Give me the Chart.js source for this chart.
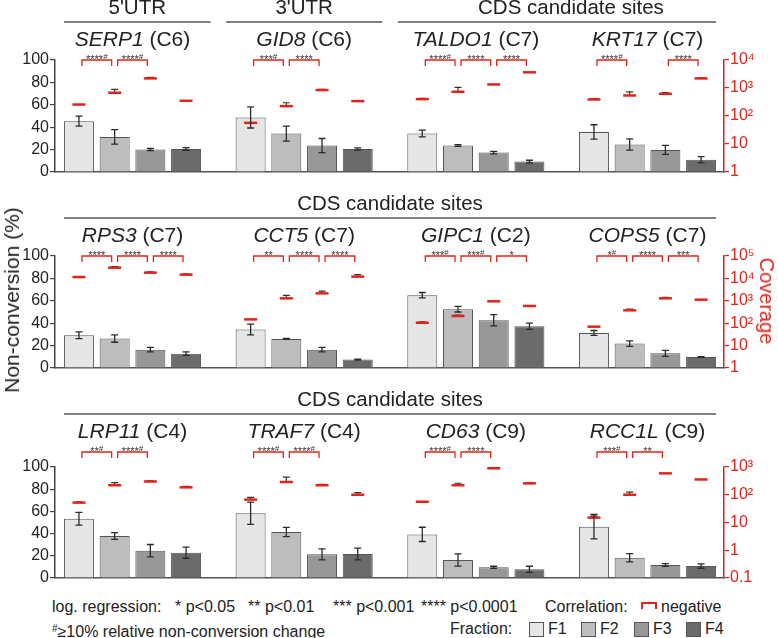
<!DOCTYPE html>
<html lang="en">
<head>
<meta charset="UTF-8" />
<title>Non-conversion by fraction</title>
<script src="https://cdn.jsdelivr.net/npm/chart.js"></script>
<style>
  body { margin: 0; background: #fff; font-family: "Liberation Sans", Arial, sans-serif; }
  #wrap { position: relative; width: 778px; height: 638px; overflow: hidden; }
  #wrap canvas { position: absolute; left: 0; }
  .t { position: absolute; white-space: nowrap; font-size: 16px; line-height: 18px; color: #222; }
  .box { position: absolute; width: 13px; height: 13px; border: 1px solid #555; }
</style>
</head>
<body>
<div id="wrap">
  <canvas id="row1" width="778" height="184" style="top:0px"></canvas>
  <canvas id="row2" width="778" height="196" style="top:184px"></canvas>
  <canvas id="row3" width="778" height="210" style="top:380px"></canvas>

  <!-- axis titles -->
  <div class="t" style="left:12px;top:300px;font-size:21px;line-height:22px;transform:translate(-50%,-50%) rotate(-90deg)">Non-conversion (%)</div>
  <div class="t" style="left:767px;top:301px;font-size:20px;line-height:22px;color:#e2231a;transform:translate(-50%,-50%) rotate(90deg)">Coverage</div>

  <!-- legend -->
  <div class="t" style="left:52px;top:598px">log. regression:</div>
  <div class="t" style="left:175px;top:598px">* p&lt;0.05</div>
  <div class="t" style="left:248px;top:598px">** p&lt;0.01</div>
  <div class="t" style="left:333px;top:598px">*** p&lt;0.001</div>
  <div class="t" style="left:421px;top:598px">**** p&lt;0.0001</div>
  <div class="t" style="left:545px;top:598px">Correlation:</div>
  <div style="position:absolute;left:641px;top:602px;width:12px;height:5px;border:2px solid #e2231a;border-bottom:none"></div>
  <div class="t" style="left:661px;top:598px">negative</div>

  <div class="t" style="left:52px;top:620px"><span style="font-size:10px;vertical-align:5px">#</span>≥10% relative non-conversion change</div>
  <div class="t" style="left:450px;top:620px">Fraction:</div>
  <div class="box" style="left:529px;top:622px;background:#e6e6e6"></div>
  <div class="t" style="left:548px;top:620px">F1</div>
  <div class="box" style="left:581px;top:622px;background:#bdbdbd"></div>
  <div class="t" style="left:600px;top:620px">F2</div>
  <div class="box" style="left:634px;top:622px;background:#989898"></div>
  <div class="t" style="left:653px;top:620px">F3</div>
  <div class="box" style="left:686px;top:622px;background:#6b6b6b"></div>
  <div class="t" style="left:705px;top:620px">F4</div>
</div>

<script>
  // ---- data ----
  const fractions = ["F1", "F2", "F3", "F4"];
  const pctTicks = [0, 20, 40, 60, 80, 100];

  // row 1
  const genes1 = ["SERP1", "GID8", "TALDO1", "KRT17"];
  const clusters1 = ["C6", "C6", "C7", "C7"];
  const nonconv1 = [[45.4, 31.3, 20.0, 20.6], [48.7, 34.3, 23.6, 20.6], [34.3, 23.6, 17.3, 9.3], [35.8, 24.5, 19.7, 11.0]];
  const err1 = [[4.5, 6.5, 1.0, 1.2], [9.4, 6.7, 6.3, 1.0], [3.0, 0.8, 1.2, 1.2], [6.4, 5.0, 4.0, 2.8]];
  const cov1 = [[257, 676, 2200, 350], [57, 225, 845, 340], [400, 735, 1340, 3630], [390, 540, 620, 2200]];
  const covHi1 = [[null, 890, 2380, null], [null, 297, 900, null], [430, 1050, null, null], [420, 730, 680, 2350]];
  const sig1 = [["****#", "****#", ""], ["***#", "****", ""], ["****#", "****", "****"], ["****#", "", "****"]];
  const covTicks1 = [1, 10, 100, 1000, 10000];
  const covLabels1 = ["1", "10", "10²", "10³", "10⁴"];

  // row 2
  const genes2 = ["RPS3", "CCT5", "GIPC1", "COPS5"];
  const clusters2 = ["C7", "C7", "C2", "C7"];
  const nonconv2 = [[29.3, 26.3, 16.4, 12.8], [34.3, 26.0, 16.4, 7.5], [65.0, 52.5, 42.7, 37.3], [31.3, 21.8, 13.1, 9.9]];
  const err2 = [[3.0, 3.3, 2.0, 1.6], [4.8, 0.5, 2.0, 0.5], [2.4, 2.5, 5.0, 2.8], [2.2, 2.5, 2.7, 0.3]];
  const cov2 = [[11500, 30000, 18000, 14700], [148, 1290, 2150, 12000], [105, 210, 950, 590], [70, 375, 1290, 1120]];
  const covHi2 = [[null, 34000, 19500, 16000], [null, 1750, 2700, 14800], [115, 230, null, null], [null, 430, 1420, null]];
  const sig2 = [["****", "****", "****"], ["**", "****", "****"], ["***#", "***#", "*"], ["*#", "****", "***"]];
  const covTicks2 = [1, 10, 100, 1000, 10000, 100000];
  const covLabels2 = ["1", "10", "10²", "10³", "10⁴", "10⁵"];

  // row 3
  const genes3 = ["LRP11", "TRAF7", "CD63", "RCC1L"];
  const clusters3 = ["C4", "C4", "C9", "C9"];
  const nonconv3 = [[53.4, 37.8, 24.6, 22.8], [58.3, 41.4, 21.3, 21.6], [39.3, 16.2, 9.6, 7.8], [46.2, 18.3, 11.7, 10.8]];
  const err3 = [[5.7, 3.0, 5.6, 5.0], [10.0, 4.2, 5.0, 5.3], [6.4, 5.5, 1.0, 2.8], [11.0, 3.7, 1.3, 2.0]];
  const cov3 = [[52, 220, 300, 185], [67, 288, 220, 100], [56, 220, 900, 257], [15, 100, 590, 355]];
  const covHi3 = [[56, 272, 320, 200], [80, 430, 235, 120], [null, 260, null, 275], [17, 125, null, null]];
  const sig3 = [["**#", "****#", ""], ["****#", "****#", ""], ["****#", "****", ""], ["***#", "**", ""]];
  const covTicks3 = [0.1, 1, 10, 100, 1000];
  const covLabels3 = ["0.1", "1", "10", "10²", "10³"];

  // ---- styles ----
  const RED = "#e2231a";
  const INK = "#222";
  const FAM = "'Liberation Sans', Arial, sans-serif";
  const fractionFill = ["#e6e6e6", "#bdbdbd", "#989898", "#6b6b6b"];

  Chart.defaults.font.family = FAM;
  Chart.defaults.color = INK;

  // error bars, coverage marks, brackets and headers
  function deco(row) {
    return {
      id: "deco",
      afterDraw(chart) {
        const ctx = chart.ctx;
        const area = chart.chartArea;
        const xs = chart.scales.x, ys = chart.scales.y, ys2 = chart.scales.y2;
        const metas = fractions.map((f, k) => chart.getDatasetMeta(k));
        const top = area.top + row.shift;
        ctx.save();

        // section headers with rule
        row.heads.forEach((h) => {
          const l = Math.max(xs.getPixelForValue(h.from) - 78, area.left + 9);
          const r = Math.min(xs.getPixelForValue(h.to) + 78, area.right - 8);
          ctx.strokeStyle = "#555";
          ctx.lineWidth = 1.5;
          ctx.beginPath();
          ctx.moveTo(l, top - 38);
          ctx.lineTo(r, top - 38);
          ctx.stroke();
          ctx.fillStyle = INK;
          ctx.font = "20.5px " + FAM;
          ctx.textAlign = "center";
          ctx.textBaseline = "middle";
          ctx.fillText(h.text, (l + r) / 2 + (h.dx || 0), top - 52);
        });

        // gene titles
        row.genes.forEach((g, i) => {
          const cx = xs.getPixelForValue(i);
          const rest = " (" + row.clusters[i] + ")";
          ctx.font = "italic 21px " + FAM;
          const w1 = ctx.measureText(g).width;
          ctx.font = "21px " + FAM;
          const w2 = ctx.measureText(rest).width;
          const x0 = cx - (w1 + w2) / 2;
          ctx.textAlign = "left";
          ctx.textBaseline = "middle";
          ctx.fillStyle = INK;
          ctx.font = "italic 21px " + FAM;
          ctx.fillText(g, x0, top - 20);
          ctx.font = "21px " + FAM;
          ctx.fillText(rest, x0 + w1, top - 20);
        });

        // coverage marks
        row.genes.forEach((g, i) => {
          fractions.forEach((f, k) => {
            const bx = metas[k].data[i].x;
            const y = ys2.getPixelForValue(row.cov[i][k]);
            const hi = row.covHi[i][k];
            if (hi != null) {
              const yh = ys2.getPixelForValue(hi);
              ctx.strokeStyle = "#333";
              ctx.lineWidth = 1.2;
              ctx.beginPath();
              ctx.moveTo(bx, y);
              ctx.lineTo(bx, yh);
              ctx.moveTo(bx - 3.5, yh);
              ctx.lineTo(bx + 3.5, yh);
              ctx.stroke();
            }
            ctx.strokeStyle = RED;
            ctx.lineWidth = 2.5;
            ctx.beginPath();
            ctx.moveTo(bx - 6.5, y);
            ctx.lineTo(bx + 6.5, y);
            ctx.stroke();
          });
        });

        // error bars
        ctx.strokeStyle = "#2b2b2b";
        ctx.lineWidth = 1.3;
        row.genes.forEach((g, i) => {
          fractions.forEach((f, k) => {
            const bx = metas[k].data[i].x;
            const v = row.nonconv[i][k], e = row.err[i][k];
            const yl = ys.getPixelForValue(v - e), yu = ys.getPixelForValue(v + e);
            ctx.beginPath();
            ctx.moveTo(bx, yl);
            ctx.lineTo(bx, yu);
            ctx.moveTo(bx - 3.5, yl);
            ctx.lineTo(bx + 3.5, yl);
            ctx.moveTo(bx - 3.5, yu);
            ctx.lineTo(bx + 3.5, yu);
            ctx.stroke();
          });
        });

        // significance brackets
        row.genes.forEach((g, i) => {
          row.sig[i].forEach((s, j) => {
            if (!s) return;
            const xa = metas[j].data[i].x + 3;
            const xb = metas[j + 1].data[i].x - 3;
            ctx.strokeStyle = RED;
            ctx.lineWidth = 1.3;
            ctx.beginPath();
            ctx.moveTo(xa, top + 6);
            ctx.lineTo(xa, top);
            ctx.lineTo(xb, top);
            ctx.lineTo(xb, top + 6);
            ctx.stroke();
            const stars = s.replace("#", "");
            const hash = s.includes("#") ? "#" : "";
            ctx.font = "11px " + FAM;
            const ws = ctx.measureText(stars).width;
            ctx.font = "8px " + FAM;
            const wh = hash ? ctx.measureText(hash).width : 0;
            const x0 = (xa + xb) / 2 - (ws + wh) / 2;
            ctx.fillStyle = "#333";
            ctx.textAlign = "left";
            ctx.textBaseline = "alphabetic";
            ctx.font = "11px " + FAM;
            ctx.fillText(stars, x0, top + 3);
            if (hash) {
              ctx.font = "8px " + FAM;
              ctx.fillText(hash, x0 + ws, top - 1);
            }
          });
        });

        ctx.restore();
      }
    };
  }

  function drawRow(id, row, padTop) {
    const datasets = fractions.map((f, k) => ({
      label: f,
      data: row.genes.map((g, i) => ({ x: i, y: row.nonconv[i][k] })),
      backgroundColor: fractionFill[k],
      borderColor: "#555",
      borderWidth: 1,
      categoryPercentage: 0.832,
      barPercentage: 0.84,
      yAxisID: "y"
    }));

    new Chart(document.getElementById(id), {
      type: "bar",
      data: { datasets: datasets },
      options: {
        responsive: false,
        animation: false,
        layout: { padding: { top: padTop, bottom: 12, left: 0, right: 0 } },
        plugins: { legend: { display: false }, tooltip: { enabled: false } },
        scales: {
          x: {
            type: "linear",
            min: -0.4515,
            max: 3.4455,
            offset: false,
            ticks: { display: false, stepSize: 1, includeBounds: false },
            grid: { display: false },
            border: { display: true, color: "#555", width: 1.5 },
            afterFit: (s) => { s.height = 0; }
          },
          y: {
            position: "left",
            min: 0,
            max: 100,
            afterBuildTicks: (s) => { s.ticks = pctTicks.map((v) => ({ value: v })); },
            ticks: { font: { size: 16 }, color: INK, padding: 1 },
            grid: { display: true, drawOnChartArea: false, drawTicks: true, tickLength: 5, color: "#444", lineWidth: 1.2 },
            border: { display: true, color: "#444", width: 1.5 },
            afterFit: (s) => { s.width = 55; }
          },
          y2: {
            type: "logarithmic",
            position: "right",
            min: row.covTicks[0],
            max: row.covTicks[row.covTicks.length - 1],
            afterBuildTicks: (s) => { s.ticks = row.covTicks.map((v) => ({ value: v })); },
            ticks: {
              autoSkip: false,
              font: { size: 16 },
              color: RED,
              padding: 1,
              callback: (v, i) => row.covLabels[i]
            },
            grid: { display: true, drawOnChartArea: false, drawTicks: true, tickLength: 5, color: RED, lineWidth: 1.2 },
            border: { display: true, color: RED, width: 1.5 },
            afterFit: (s) => { s.width = 54; }
          }
        }
      },
      plugins: [deco(row)]
    });
  }

  drawRow("row1", {
    genes: genes1, clusters: clusters1, nonconv: nonconv1, err: err1, cov: cov1, covHi: covHi1, sig: sig1,
    covTicks: covTicks1, covLabels: covLabels1, shift: 0,
    heads: [{ text: "5'UTR", from: 0, to: 0 }, { text: "3'UTR", from: 1, to: 1 }, { text: "CDS candidate sites", from: 2, to: 3, dx: 14 }]
  }, 60);

  drawRow("row2", {
    genes: genes2, clusters: clusters2, nonconv: nonconv2, err: err2, cov: cov2, covHi: covHi2, sig: sig2,
    covTicks: covTicks2, covLabels: covLabels2, shift: 0,
    heads: [{ text: "CDS candidate sites", from: 0, to: 3 }]
  }, 72);

  drawRow("row3", {
    genes: genes3, clusters: clusters3, nonconv: nonconv3, err: err3, cov: cov3, covHi: covHi3, sig: sig3,
    covTicks: covTicks3, covLabels: covLabels3, shift: -15,
    heads: [{ text: "CDS candidate sites", from: 0, to: 3 }]
  }, 87);
</script>
</body>
</html>
